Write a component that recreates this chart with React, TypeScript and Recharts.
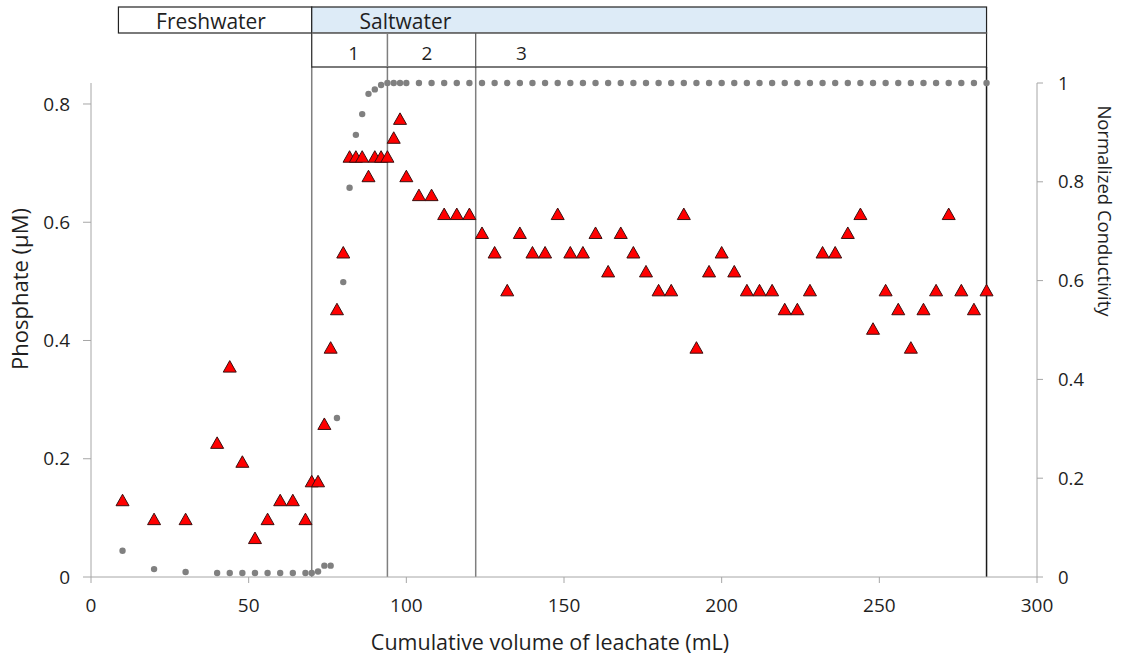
import { ScatterChart, Scatter, XAxis, YAxis, ReferenceLine } from 'recharts'

const FONT = "'Open Sans', 'DejaVu Sans', sans-serif"
const TEXT = '#1f1f1f'
const AXIS = '#a6a6a6'

const W = 1129, H = 657
const PLOT = { left: 91, right: 1037, top: 83, bottom: 577 }
const X_MAX = 300
const LEFT_MAX = 0.8355

// cumulative volume of leachate (mL), shared by both series
const volume = [
  10, 20, 30, 40, 44, 48, 52, 56, 60, 64, 68,
  70, 72, 74, 76, 78, 80, 82, 84, 86, 88, 90, 92, 94, 96, 98, 100,
  104, 108, 112, 116, 120, 124, 128, 132, 136, 140, 144, 148, 152, 156, 160, 164,
  168, 172, 176, 180, 184, 188, 192, 196, 200, 204, 208, 212, 216, 220, 224, 228,
  232, 236, 240, 244, 248, 252, 256, 260, 264, 268, 272, 276, 280, 284,
]

// phosphate (µM) – left axis
const phosphate = [
  0.129, 0.097, 0.097, 0.226, 0.355, 0.194, 0.065, 0.097, 0.129, 0.129, 0.097,
  0.161, 0.161, 0.258, 0.387, 0.452, 0.548, 0.710, 0.710, 0.710, 0.677, 0.710, 0.710, 0.710, 0.742, 0.774, 0.677,
  0.645, 0.645, 0.613, 0.613, 0.613, 0.581, 0.548, 0.484, 0.581, 0.548, 0.548, 0.613, 0.548, 0.548, 0.581, 0.516,
  0.581, 0.548, 0.516, 0.484, 0.484, 0.613, 0.387, 0.516, 0.548, 0.516, 0.484, 0.484, 0.484, 0.452, 0.452, 0.484,
  0.548, 0.548, 0.581, 0.613, 0.419, 0.484, 0.452, 0.387, 0.452, 0.484, 0.613, 0.484, 0.452, 0.484,
]

// normalized conductivity – right axis
const conductivity = [
  0.053, 0.016, 0.010, 0.008, 0.008, 0.008, 0.008, 0.008, 0.008, 0.008, 0.008,
  0.008, 0.011, 0.023, 0.023, 0.322, 0.597, 0.788, 0.895, 0.937, 0.978, 0.987, 0.996, 1, 1, 1, 1,
  1, 1, 1, 1, 1, 1, 1, 1, 1, 1, 1, 1, 1, 1, 1, 1,
  1, 1, 1, 1, 1, 1, 1, 1, 1, 1, 1, 1, 1, 1, 1, 1,
  1, 1, 1, 1, 1, 1, 1, 1, 1, 1, 1, 1, 1, 1,
]

const xTicks = [0, 50, 100, 150, 200, 250, 300]
const leftTicks = [0, 0.2, 0.4, 0.6, 0.8]
const rightTicks = [0, 0.2, 0.4, 0.6, 0.8, 1]

// stage boundaries (mL) and labels
const freshwaterStart = 8.7
const stageBounds = [70, 94, 122, 284]
const stageLabels = ['1', '2', '3']

const phosData = volume.map((x, i) => ({ x, y: phosphate[i] }))
const condData = volume.map((x, i) => ({ x, y: conductivity[i] }))

const xPx = (v: number) => PLOT.left + (v / X_MAX) * (PLOT.right - PLOT.left)

type ShapeProps = { cx?: number; cy?: number }
function triangle({ cx, cy }: ShapeProps) {
  if (cx == null || cy == null) return <g />
  const d = `M${cx},${cy - 6.5} L${cx + 6.5},${cy + 5} L${cx - 6.5},${cy + 5} Z`
  return <path d={d} fill="#ff0000" stroke="#3a1010" strokeWidth={1} />
}
function dot({ cx, cy }: ShapeProps) {
  if (cx == null || cy == null) return <g />
  return <circle cx={cx} cy={cy} r={3.2} fill="#808080" />
}

function Header() {
  const [b1, b2, b3, b4] = stageBounds
  const labelX = [83.3, 106.5, 136.5]
  return (
    <svg width={W} height={H} style={{ position: 'absolute', left: 0, top: 0, pointerEvents: 'none' }}>
      <g fontFamily={FONT} fill={TEXT}>
        <rect x={xPx(freshwaterStart)} y={7} width={xPx(b1) - xPx(freshwaterStart)} height={26} fill="#fff" stroke="#222" strokeWidth={1.2} />
        <rect x={xPx(b1)} y={7} width={xPx(b4) - xPx(b1)} height={26} fill="#ddebf7" stroke="#222" strokeWidth={1.2} />
        <rect x={xPx(b1)} y={33} width={xPx(b4) - xPx(b1)} height={34} fill="#fff" stroke="#222" strokeWidth={1.2} />
        <line x1={xPx(b1)} x2={xPx(b4)} y1={33} y2={33} stroke="#7f7f7f" strokeWidth={1.5} />
        <line x1={xPx(b2)} x2={xPx(b2)} y1={33} y2={67} stroke="#7f7f7f" strokeWidth={1.5} />
        <line x1={xPx(b3)} x2={xPx(b3)} y1={33} y2={67} stroke="#555" strokeWidth={1.2} />
        <text x={211} y={29} fontSize={21} textAnchor="middle">Freshwater</text>
        <text x={405.5} y={29} fontSize={21} textAnchor="middle">Saltwater</text>
        {stageLabels.map((s, i) => (
          <text key={s} x={xPx(labelX[i])} y={60} fontSize={19} textAnchor="middle">{s}</text>
        ))}
        <text x={550} y={650} fontSize={21.5} textAnchor="middle">Cumulative volume of leachate (mL)</text>
        <text x={28} y={289} fontSize={22} textAnchor="middle" transform="rotate(-90, 28, 289)">Phosphate (µM)</text>
        <text x={1098} y={211} fontSize={18.5} textAnchor="middle" transform="rotate(90, 1098, 211)">Normalized Conductivity</text>
      </g>
    </svg>
  )
}

export default function App() {
  const tick = { fill: TEXT, fontSize: 19, fontFamily: FONT }
  return (
    <div style={{ position: 'absolute', left: 0, top: 0, width: W, height: H, background: '#fff' }}>
      <ScatterChart width={W} height={H} margin={{ top: PLOT.top, right: 0, bottom: 0, left: 0 }}>
        <XAxis
          type="number" dataKey="x" domain={[0, X_MAX]} ticks={xTicks}
          tick={tick} tickSize={6} tickMargin={16} height={H - PLOT.bottom}
          axisLine={{ stroke: AXIS }} tickLine={{ stroke: AXIS }}
        />
        <YAxis
          yAxisId="left" type="number" dataKey="y" domain={[0, LEFT_MAX]} ticks={leftTicks}
          tick={tick} tickSize={8} tickMargin={13} width={PLOT.left}
          axisLine={{ stroke: AXIS }} tickLine={{ stroke: AXIS }}
        />
        <YAxis
          yAxisId="right" orientation="right" type="number" dataKey="y" domain={[0, 1]} ticks={rightTicks}
          tick={{ ...tick, fontSize: 18.5 }} tickSize={6} tickMargin={15} width={W - PLOT.right}
          axisLine={{ stroke: AXIS }} tickLine={{ stroke: AXIS }}
        />
        {stageBounds.map((v, i) => (
          <ReferenceLine
            key={v} yAxisId="right" ifOverflow="visible"
            segment={[{ x: v, y: 0 }, { x: v, y: 1.0324 }]}
            stroke={i === stageBounds.length - 1 ? '#1a1a1a' : '#7f7f7f'} strokeWidth={1.5}
          />
        ))}
        <Scatter yAxisId="right" data={condData} shape={dot} isAnimationActive={false} />
        <Scatter yAxisId="left" data={phosData} shape={triangle} isAnimationActive={false} />
      </ScatterChart>
      <Header />
    </div>
  )
}
